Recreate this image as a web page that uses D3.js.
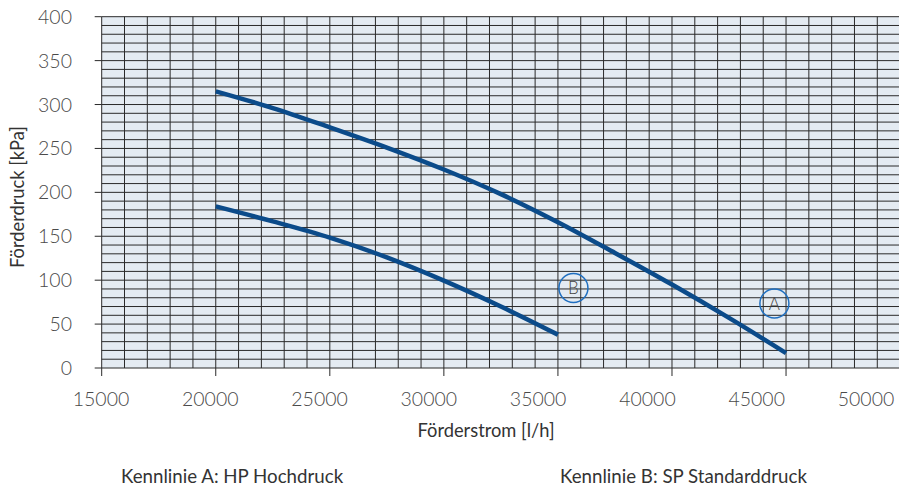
<!DOCTYPE html>
<html>
<head>
<meta charset="utf-8">
<script src="https://cdn.jsdelivr.net/npm/d3@7"></script>
<style>
  html, body { margin: 0; padding: 0; background: #ffffff; }
  svg { display: block; font-family: "Lato", sans-serif; }
</style>
</head>
<body>
<svg id="chart" width="899" height="491"></svg>
<script>
// ---- data ----
const flowA = [20000, 22500, 25000, 27500, 30000, 32500, 35000, 37500, 40000, 42500, 45000];
const pressureA = [315, 296, 274, 251, 226, 198, 166, 131, 95, 57, 17];
const flowB = [20000, 22500, 25000, 27500, 30000, 32500, 35000];
const pressureB = [184, 167, 148.5, 126, 99.5, 70, 38];
const xTickValues = [15000, 20000, 25000, 30000, 35000, 40000, 45000, 50000];
const xTickLabels = ["15000", "20000", "25000", "30000", "35000", "40000", "45000", "50000"];
const yTickValues = [0, 50, 100, 150, 200, 250, 300, 350, 400];
const curveTags = ["A", "B"];
const tagFlow = [44490, 35680];
const tagPressure = [73.5, 91];
const legendTexts = ["Kennlinie A: HP Hochdruck", "Kennlinie B: SP Standarddruck"];
const xTitle = "Förderstrom [l/h]";
const yTitle = "Förderdruck [kPa]";

// ---- layout ----
const svg = d3.select("#chart");
const plotLeft = 101.7, plotTop = 16.7, plotBottom = 368, plotRight = 900.1;

const x = d3.scaleLinear().domain([15000, 50000]).range([plotLeft, plotRight]);
const y = d3.scaleLinear().domain([0, 400]).range([plotBottom, plotTop]);
const xLabelPos = d3.scalePoint().domain(xTickLabels).range([101, 866]);

// plot background
svg.append("rect")
  .attr("x", plotLeft).attr("y", plotTop)
  .attr("width", 899 - plotLeft).attr("height", plotBottom - plotTop)
  .attr("fill", "#e4ebf2");

// grid
const grid = svg.append("g").attr("stroke", "#2a2a2a").attr("stroke-width", 1);
grid.selectAll("line.v").data(d3.range(15000, 50001, 1000)).join("line")
  .attr("class", "v")
  .attr("x1", d => x(d)).attr("x2", d => x(d))
  .attr("y1", plotTop).attr("y2", plotBottom);
grid.selectAll("line.h").data(d3.range(0, 401, 10)).join("line")
  .attr("class", "h")
  .attr("x1", plotLeft).attr("x2", 899)
  .attr("y1", d => y(d)).attr("y2", d => y(d));

// y axis ticks + labels
const yAxis = svg.append("g");
yAxis.selectAll("line").data(yTickValues).join("line")
  .attr("x1", plotLeft - 7).attr("x2", plotLeft)
  .attr("y1", d => y(d)).attr("y2", d => y(d))
  .attr("stroke", "#2a2a2a").attr("stroke-width", 1);
yAxis.selectAll("text").data(yTickValues).join("text")
  .attr("x", 72).attr("y", d => y(d))
  .attr("dy", "0.36em")
  .attr("text-anchor", "end")
  .attr("font-size", 19.5)
  .attr("font-weight", 300)
  .attr("fill", "#4a4a4a")
  .text(d => d);

// x axis ticks + labels
const xAxis = svg.append("g");
xAxis.selectAll("line").data(xTickValues).join("line")
  .attr("x1", d => x(d)).attr("x2", d => x(d))
  .attr("y1", plotBottom).attr("y2", plotBottom + 8)
  .attr("stroke", "#2a2a2a").attr("stroke-width", 1);
xAxis.selectAll("text").data(xTickLabels).join("text")
  .attr("x", d => xLabelPos(d)).attr("y", 406)
  .attr("text-anchor", "middle")
  .attr("font-size", 19.5)
  .attr("font-weight", 300)
  .attr("fill", "#4a4a4a")
  .text(d => d);

// axis titles
svg.append("text")
  .attr("x", 486).attr("y", 437)
  .attr("text-anchor", "middle")
  .attr("font-size", 18.3)
  .attr("fill", "#333")
  .text(xTitle);
svg.append("text")
  .attr("transform", "translate(23.5,197) rotate(-90)")
  .attr("text-anchor", "middle")
  .attr("font-size", 18.3)
  .attr("fill", "#333")
  .text(yTitle);

// curves
const line = d3.line().x(d => x(d[0])).y(d => y(d[1])).curve(d3.curveCatmullRom.alpha(0.5));
const seriesA = flowA.map((f, i) => [f, pressureA[i]]);
const seriesB = flowB.map((f, i) => [f, pressureB[i]]);
svg.selectAll("path.curve").data([seriesA, seriesB]).join("path")
  .attr("class", "curve")
  .attr("d", line)
  .attr("fill", "none")
  .attr("stroke", "#0b4b8a")
  .attr("stroke-width", 4.5)
  .attr("stroke-linecap", "butt");

// circled tags
const tags = svg.selectAll("g.tag").data(curveTags).join("g")
  .attr("class", "tag")
  .attr("transform", (d, i) => `translate(${x(tagFlow[i])},${y(tagPressure[i])})`);
tags.append("circle").attr("r", 14.5)
  .attr("fill", "none").attr("stroke", "#1f6fc0").attr("stroke-width", 1.5);
tags.append("text")
  .attr("text-anchor", "middle").attr("dy", "0.36em")
  .attr("font-size", 17).attr("font-weight", 300)
  .attr("fill", "#444")
  .text(d => d);

// legend texts
svg.selectAll("text.legend").data(legendTexts).join("text")
  .attr("class", "legend")
  .attr("x", (d, i) => [121, 560][i]).attr("y", 483)
  .attr("font-size", 18.7)
  .attr("fill", "#333")
  .text(d => d);
</script>
</body>
</html>
